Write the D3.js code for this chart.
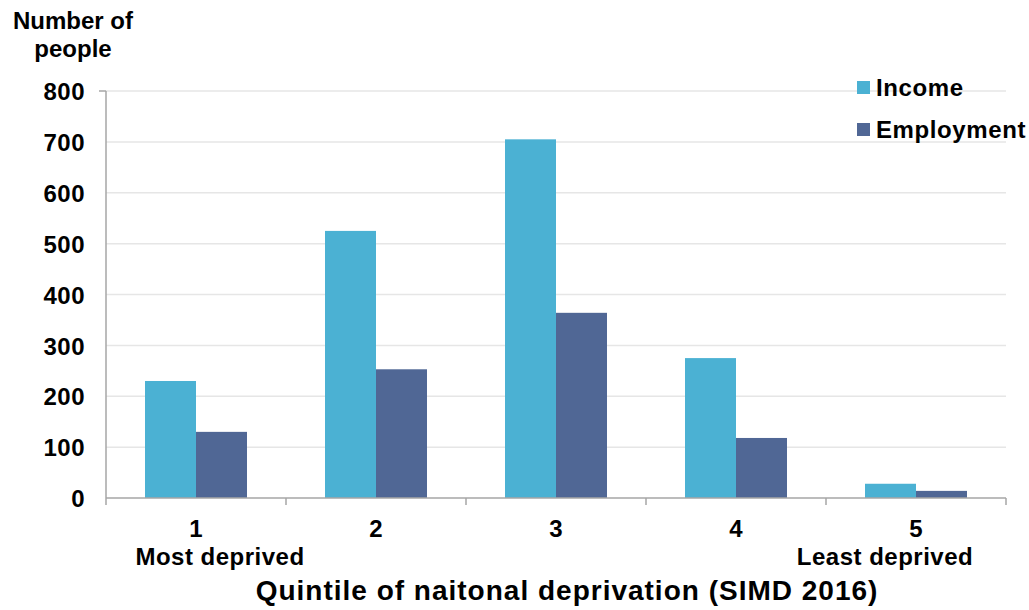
<!DOCTYPE html>
<html><head><meta charset="utf-8">
<script src="https://cdn.jsdelivr.net/npm/d3@7"></script>
<style>body{margin:0;background:#fff;} text{font-family:"Liberation Sans",Arial,sans-serif;font-weight:bold;fill:#000;}</style>
</head><body>
<svg id="c" width="1029" height="610"></svg>
<script>
const categories = ["1","2","3","4","5"];
const subLabels = ["Most deprived","","","","Least deprived"];
const seriesNames = ["Income","Employment"];
const incomeValues = [230, 525, 705, 275, 28];
const employmentValues = [130, 253, 364, 118, 14];
const yTicks = [0,100,200,300,400,500,600,700,800];
const colors = ["#4bb1d3","#506795"];

const svg = d3.select("#c");
const m = {left:106, right:1006, top:91, bottom:498};
const x = d3.scaleBand().domain(categories).range([m.left, m.right]).paddingInner(0).paddingOuter(0);
const x1 = d3.scaleBand().domain(seriesNames).range([0, x.bandwidth()]).paddingInner(0).paddingOuter(0.7647);
const y = d3.scaleLinear().domain([0,800]).range([m.bottom, m.top]);

// gridlines
svg.append("g").selectAll("line").data(yTicks.filter(d=>d>0)).join("line")
  .attr("x1", m.left).attr("x2", m.right)
  .attr("y1", d=>y(d)).attr("y2", d=>y(d))
  .attr("stroke","#e6e6e6").attr("stroke-width",1.5);

// bars
const data = categories.map((c,i)=>({c, vals:[incomeValues[i], employmentValues[i]]}));
const g = svg.append("g").selectAll("g").data(data).join("g").attr("transform", d=>`translate(${x(d.c)},0)`);
g.selectAll("rect").data(d=>d.vals.map((v,j)=>({s:seriesNames[j], v, j}))).join("rect")
  .attr("x", d=>x1(d.s)).attr("width", x1.bandwidth())
  .attr("y", d=>y(d.v)).attr("height", d=>y(0)-y(d.v))
  .attr("fill", d=>colors[d.j]);

// y axis
const yAxis = svg.append("g").attr("transform",`translate(${m.left},0)`)
  .call(d3.axisLeft(y).tickValues(yTicks).tickSize(0).tickPadding(21));
yAxis.select(".domain").remove();
yAxis.selectAll("text").style("font-size","24px").style("letter-spacing","0.5px").attr("font-family",null).attr("dy","0.36em");
svg.append("line").attr("x1",m.left).attr("x2",m.left).attr("y1",y(800)).attr("y2",y(0)).attr("stroke","#a6a6a6").attr("stroke-width",1.5);
svg.append("line").attr("x1",m.left-7).attr("x2",m.left).attr("y1",y(800)).attr("y2",y(800)).attr("stroke","#a6a6a6").attr("stroke-width",1.5);

// x axis
svg.append("line").attr("x1",m.left).attr("x2",m.right).attr("y1",y(0)).attr("y2",y(0)).attr("stroke","#a6a6a6").attr("stroke-width",1.5);
const bounds = categories.map(c=>x(c)).concat([m.right]);
svg.append("g").selectAll("line").data(bounds).join("line")
  .attr("x1",d=>d).attr("x2",d=>d).attr("y1",y(0)).attr("y2",y(0)+7)
  .attr("stroke","#a6a6a6").attr("stroke-width",1.5);
svg.append("g").selectAll("text").data(categories).join("text")
  .attr("x", d=>x(d)+x.bandwidth()/2).attr("y",537).attr("text-anchor","middle")
  .style("font-size","24px").text(d=>d);
svg.append("text").attr("x",220).attr("y",565).attr("text-anchor","middle").style("font-size","24px").style("letter-spacing","0.5px").text(subLabels[0]);
svg.append("text").attr("x",885).attr("y",565).attr("text-anchor","middle").style("font-size","24px").style("letter-spacing","0.5px").text(subLabels[4]);

// axis titles
svg.append("text").attr("x",567).attr("y",600).attr("text-anchor","middle").style("font-size","28px").style("letter-spacing","1px").text("Quintile of naitonal deprivation (SIMD 2016)");
const yt = svg.append("text").attr("text-anchor","middle").style("font-size","24px");
yt.append("tspan").attr("x",73).attr("y",29).text("Number of");
yt.append("tspan").attr("x",73).attr("y",57).text("people");

// legend
const leg = svg.append("g").selectAll("g").data(seriesNames).join("g")
  .attr("transform",(d,i)=>`translate(857,${81+i*42})`);
leg.append("rect").attr("width",13).attr("height",13).attr("fill",(d,i)=>colors[i]);
leg.append("text").attr("x",19).attr("y",14.5).style("font-size","24px").style("letter-spacing","0.6px").text(d=>d);
</script>
</body></html>
